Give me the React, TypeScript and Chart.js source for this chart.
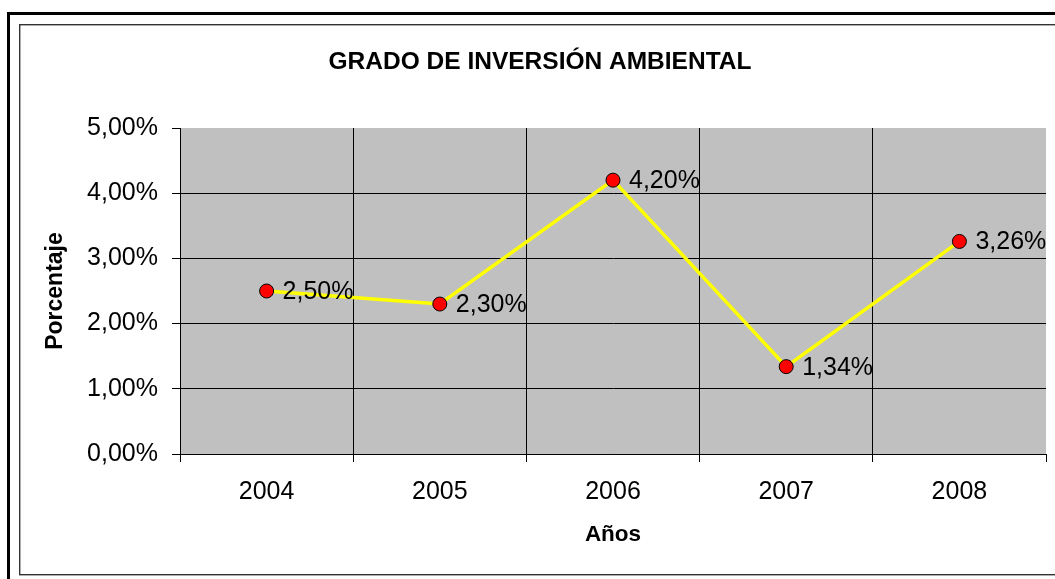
import React, { useEffect, useRef } from "react";
import { Chart, registerables } from "chart.js";

Chart.register(...registerables);

const categories: string[] = ["2004", "2005", "2006", "2007", "2008"];
const values: number[] = [2.5, 2.3, 4.2, 1.34, 3.26];
const yTicks: number[] = [0, 1, 2, 3, 4, 5];
const titleText = "GRADO DE INVERSIÓN AMBIENTAL";
const yTitle = "Porcentaje";
const xTitle = "Años";

const FONT = '"Liberation Sans", Arial, sans-serif';

const fmt = (v: number) => v.toFixed(2).replace(".", ",") + "%";

const framePlugin = {
  id: "frame",
  beforeDraw(chart: any) {
    const { ctx, chartArea } = chart;
    ctx.save();
    ctx.fillStyle = "#ffffff";
    ctx.fillRect(0, 0, chart.width, chart.height);
    ctx.strokeStyle = "#000000";
    ctx.lineWidth = 3;
    ctx.strokeRect(8.5, 13.5, 3000, 3000);
    ctx.strokeStyle = "#333333";
    ctx.lineWidth = 1.4;
    ctx.strokeRect(19.7, 24.7, 3000, 550);
    ctx.fillStyle = "#C0C0C0";
    ctx.fillRect(chartArea.left, chartArea.top, chartArea.right - chartArea.left, chartArea.bottom - chartArea.top);
    ctx.restore();
  },
};

const labelPlugin = {
  id: "pointLabels",
  afterDatasetsDraw(chart: any) {
    const { ctx } = chart;
    const meta = chart.getDatasetMeta(0);
    ctx.save();
    ctx.font = `25px ${FONT}`;
    ctx.fillStyle = "#000000";
    ctx.textAlign = "left";
    ctx.textBaseline = "middle";
    meta.data.forEach((pt: any, i: number) => {
      ctx.fillText(fmt(values[i]), pt.x + 16, pt.y + 1);
    });
    ctx.restore();
  },
};

export default function App() {
  const ref = useRef<HTMLCanvasElement | null>(null);
  useEffect(() => {
    if (!ref.current) return;
    const chart = new Chart(ref.current, {
      type: "line",
      data: {
        labels: categories,
        datasets: [
          {
            data: values,
            borderColor: "#FFFF00",
            borderWidth: 3.5,
            pointBackgroundColor: "#FF0000",
            pointBorderColor: "#000000",
            pointBorderWidth: 1,
            pointRadius: 7,
            tension: 0,
          },
        ],
      },
      options: {
        animation: false,
        responsive: true,
        maintainAspectRatio: false,
        layout: { padding: { left: 34, right: 9, top: 0, bottom: 0 } },
        plugins: {
          legend: { display: false },
          tooltip: { enabled: false },
          title: {
            display: true,
            text: titleText,
            color: "#000",
            font: { family: FONT, size: 24.5, weight: "bold" },
            padding: { top: 47.5, bottom: 51.1 },
          },
        },
        scales: {
          x: {
            type: "category",
            offset: true,
            grid: {
              offset: true,
              color: (c: any) => (c.tick ? "#000" : "rgba(0,0,0,0)"),
              tickColor: "#000",
              tickLength: 8,
              lineWidth: 1,
            },
            border: { color: "#000", width: 1 },
            ticks: { color: "#000", font: { family: FONT, size: 25 }, padding: 15, maxRotation: 0 },
            title: {
              display: true,
              text: xTitle,
              color: "#000",
              font: { family: FONT, size: 22.5, weight: "bold" },
              padding: { top: 0, bottom: 30.5 },
            },
            afterFit: (s: any) => {
              s.height = 125;
            },
          },
          y: {
            min: 0,
            max: 5,
            afterBuildTicks: (s: any) => {
              s.ticks = yTicks.map((v) => ({ value: v }));
            },
            grid: {
              color: (c: any) => (c.tick && c.tick.value === 5 ? "rgba(0,0,0,0)" : "#000"),
              tickColor: "#000",
              tickLength: 8,
              lineWidth: 1,
            },
            border: { color: "#000", width: 1 },
            ticks: {
              color: "#000",
              font: { family: FONT, size: 25 },
              padding: 14,
              callback: (v: any) => fmt(Number(v)),
            },
            title: {
              display: true,
              text: yTitle,
              color: "#000",
              font: { family: FONT, size: 23, weight: "bold" },
              padding: { top: 8.2, bottom: 0 },
            },
            afterFit: (s: any) => {
              s.width = 146;
            },
          },
        },
      },
      plugins: [framePlugin, labelPlugin],
    });
    return () => chart.destroy();
  }, []);
  return (
    <div style={{ position: "fixed", left: 0, top: 0, width: 1055, height: 579 }}>
      <canvas ref={ref} />
    </div>
  );
}
